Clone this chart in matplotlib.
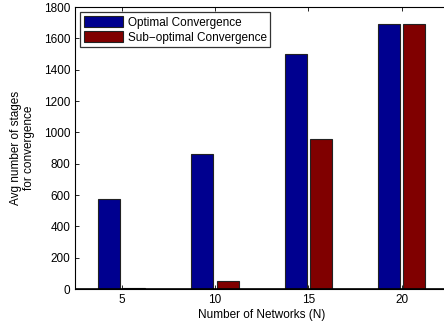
import matplotlib
matplotlib.use('Agg')
import matplotlib.pyplot as plt
import numpy as np

# data
networks = [5, 10, 15, 20]
optimal = [575, 860, 1500, 1690]
sub_optimal = [5, 50, 960, 1690]

plt.rcParams['font.family'] = ['Liberation Sans', 'DejaVu Sans']

fig = plt.figure(figsize=(4.44, 3.24), dpi=100)
ax = fig.add_axes([0.169, 0.108, 0.841, 0.870])

x = np.array(networks, dtype=float)
w = 1.18
off = 0.68
ax.bar(x - off, optimal, width=w, color='#00008f', edgecolor='#222222',
       linewidth=0.8, label='Optimal Convergence')
ax.bar(x + off, sub_optimal, width=w, color='#800000', edgecolor='#222222',
       linewidth=0.8, label='Sub\u2212optimal Convergence')
ax.axhline(0, color='black', lw=1.2)

ax.set_xlim(2.5, 22.5)
ax.set_ylim(0, 1800)
ax.set_xticks(networks)
ax.set_yticks(range(0, 1801, 200))
ax.tick_params(direction='in', top=True, right=True, labelsize=8.5, length=3, width=0.6)
for s in ax.spines.values():
    s.set_linewidth(0.8)

ax.set_xlabel('Number of Networks (N)', fontsize=8.5, labelpad=2)
ax.set_ylabel('Avg number of stages\nfor convergence', fontsize=8.5, labelpad=6)

leg = ax.legend(loc='upper left', fontsize=8.5, frameon=True, fancybox=False,
                edgecolor='black', handlelength=3.3, handleheight=1.1,
                borderaxespad=0.45, labelspacing=0.2, handletextpad=0.4,
                borderpad=0.3)
leg.get_frame().set_linewidth(0.9)

fig.savefig('out.png', dpi=100)
